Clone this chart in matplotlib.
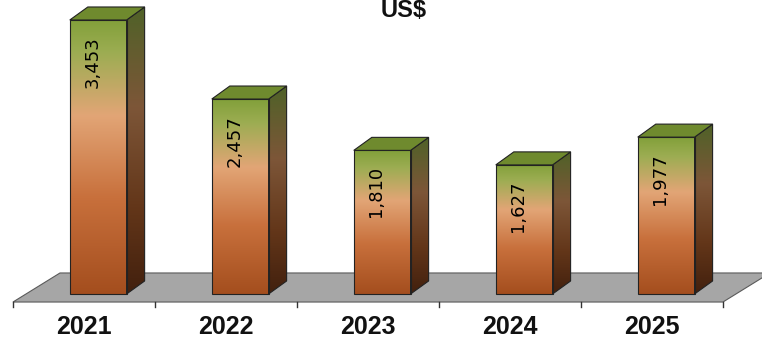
import numpy as np
import matplotlib.pyplot as plt
from matplotlib.colors import LinearSegmentedColormap
from matplotlib.patches import Polygon

# ---------------------------
# Data
# ---------------------------
years = ["2021", "2022", "2023", "2024", "2025"]
values = [3453, 2457, 1810, 1627, 1977]
value_labels = ["3,453", "2,457", "1,810", "1,627", "1,977"]
title = "US$"

# ---------------------------
# Look
# ---------------------------
front_cmap = LinearSegmentedColormap.from_list("front", [
    (0.0, "#82a03a"), (0.12, "#9cad52"), (0.35, "#e2a576"),
    (0.65, "#c8703c"), (1.0, "#a44e1e")])
side_cmap = LinearSegmentedColormap.from_list("side", [
    (0.0, "#4f6228"), (0.35, "#7d5638"), (0.7, "#633619"), (1.0, "#42200e")])
top_color = "#6f8a2e"
floor_color = "#a6a6a6"

# projection offsets (category units / value units)
bar_left, bar_right = -0.10, 0.30
bar_dx, bar_dy = 0.127, 164
floor_front, floor_back = -101, 265
floor_dx = 0.331
tick_len = 63

fig = plt.figure(figsize=(7.62, 3.39), dpi=100)
ax = fig.add_axes([0, 0, 1, 1])
ax.set_xlim(-0.5915, 4.775)
ax.set_ylim(-567, 3705)
ax.axis("off")

# floor
n = len(years)
floor = Polygon([(-0.5, floor_front), (n - 0.5, floor_front),
                 (n - 0.5 + floor_dx, floor_back), (-0.5 + floor_dx, floor_back)],
                closed=True, facecolor=floor_color, edgecolor="#5a5a5a", lw=0.8, zorder=1)
ax.add_patch(floor)
for k in range(n + 1):
    ax.plot([k - 0.5, k - 0.5], [floor_front, floor_front - tick_len],
            color="#333333", lw=1, zorder=1)

# row 0 is drawn at the top of the extent
grad = np.linspace(0, 1, 256).reshape(-1, 1)

for i, v in enumerate(values):
    x0, x1 = i + bar_left, i + bar_right
    # front face
    ax.imshow(grad, cmap=front_cmap, extent=[x0, x1, 0, v], aspect="auto",
              vmin=0, vmax=1, zorder=2, interpolation="bilinear")
    ax.add_patch(Polygon([(x0, 0), (x1, 0), (x1, v), (x0, v)], closed=True,
                         fill=False, edgecolor="#222222", lw=0.8, zorder=3))
    # side face
    side = Polygon([(x1, 0), (x1 + bar_dx, bar_dy), (x1 + bar_dx, v + bar_dy), (x1, v)],
                   closed=True, fill=False, edgecolor="#222222", lw=0.8, zorder=3)
    im = ax.imshow(grad, cmap=side_cmap, extent=[x1, x1 + bar_dx, 0, v + bar_dy],
                   aspect="auto", vmin=0, vmax=1, zorder=2, interpolation="bilinear")
    ax.add_patch(side)
    im.set_clip_path(side)
    # top face
    ax.add_patch(Polygon([(x0, v), (x1, v), (x1 + bar_dx, v + bar_dy), (x0 + bar_dx, v + bar_dy)],
                         closed=True, facecolor=top_color, edgecolor="#222222", lw=0.8, zorder=3))
    # value label
    ax.text(i + 0.06, v - 200, value_labels[i], rotation=90, ha="center", va="top",
            fontsize=13, family=["Liberation Sans Narrow", "DejaVu Sans"], zorder=4)
    # category label
    ax.text(i, -420, years[i], ha="center", va="center", fontsize=18,
            fontweight="bold", family=["Liberation Sans", "DejaVu Sans"], color="#111111")

ax.text(2.25, 3491, title, ha="center", va="baseline", fontsize=17, fontweight="bold",
        family=["Liberation Sans", "DejaVu Sans"], color="#111111")

fig.savefig("out.png", dpi=100)
